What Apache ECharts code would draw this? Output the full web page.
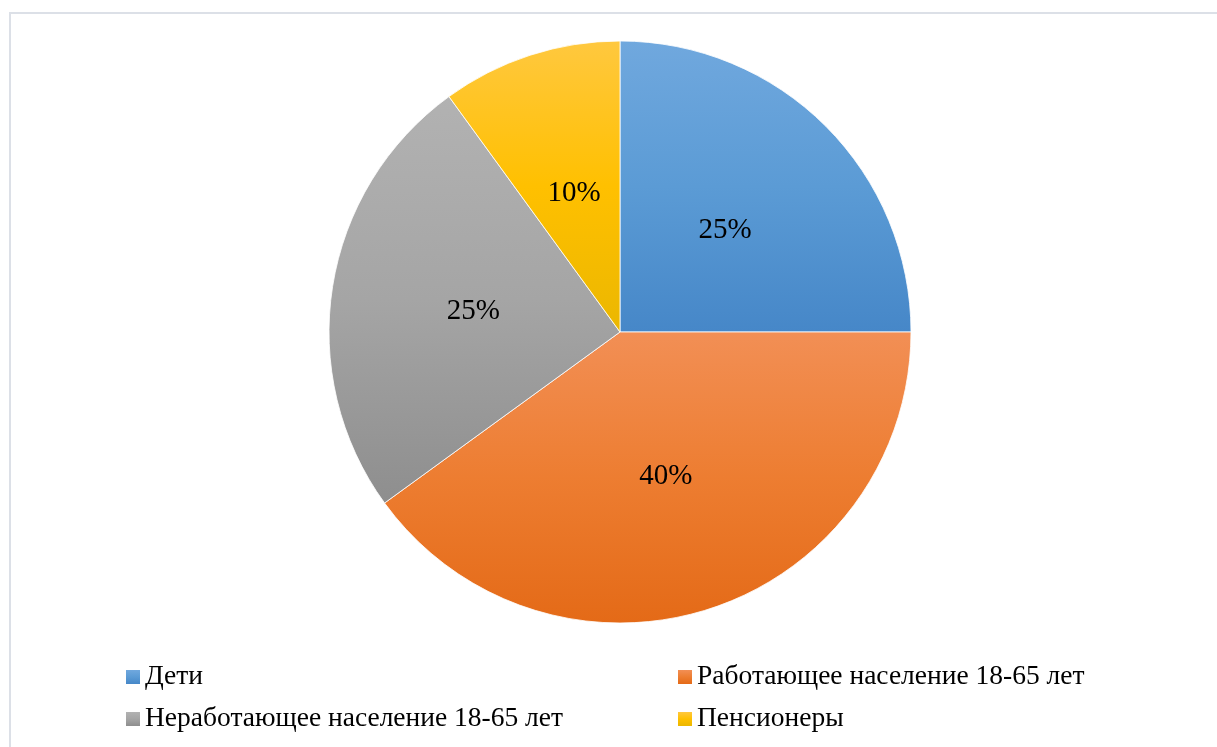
<!DOCTYPE html>
<html>
<head>
<meta charset="utf-8">
<script src="https://cdn.jsdelivr.net/npm/echarts@6/dist/echarts.min.js"></script>
<style>
html,body{margin:0;padding:0;background:#fff;}
#c{width:1217px;height:747px;}
</style>
</head>
<body>
<div id="c"></div>
<script>
const categories = ['Дети', 'Работающее население 18-65 лет', 'Неработающее население 18-65 лет', 'Пенсионеры'];
const values = [25, 40, 25, 10];
const gradients = [
  ['#70a8de', '#5b9bd5', '#4687c8'],
  ['#f28f55', '#ed7d31', '#e46a17'],
  ['#b2b2b2', '#a5a5a5', '#8e8e8e'],
  ['#ffc83f', '#ffc000', '#ebb700']
];

function grad(c) {
  return new echarts.graphic.LinearGradient(0, 0, 0, 1, [
    {offset: 0, color: c[0]}, {offset: 0.5, color: c[1]}, {offset: 1, color: c[2]}
  ]);
}

const chart = echarts.init(document.getElementById('c'), null, {renderer: 'canvas'});
const fontFamily = '"Liberation Serif", "Times New Roman", serif';
const legendText = {fontFamily: fontFamily, fontSize: 27.5, color: '#000', lineHeight: 28};

chart.setOption({
  backgroundColor: '#fff',
  animation: false,
  graphic: [{
    type: 'rect',
    shape: {x: 10, y: 13, width: 1300, height: 800},
    style: {fill: 'none', stroke: '#dce0e7', lineWidth: 2},
    silent: true,
    z: -1
  }],
  legend: [{
    orient: 'vertical',
    left: 126, top: 663, padding: 0,
    icon: 'rect', itemWidth: 14, itemHeight: 14, itemGap: 14,
    itemStyle: {borderWidth: 0},
    textStyle: legendText,
    data: [categories[0], categories[2]]
  }, {
    orient: 'vertical',
    left: 678, top: 663, padding: 0,
    icon: 'rect', itemWidth: 14, itemHeight: 14, itemGap: 14,
    itemStyle: {borderWidth: 0},
    textStyle: legendText,
    data: [categories[1], categories[3]]
  }],
  series: [{
    type: 'pie',
    center: [620, 332],
    radius: 291,
    startAngle: 90,
    clockwise: true,
    label: {
      show: true,
      position: 'inside',
      formatter: '{d}%',
      fontFamily: fontFamily,
      fontSize: 29,
      color: '#000',
      offset: [0, 3]
    },
    labelLine: {show: false},
    itemStyle: {borderColor: '#ffffff', borderWidth: 0.8},
    emphasis: {disabled: true},
    data: categories.map((n, i) => ({name: n, value: values[i], itemStyle: {color: grad(gradients[i])}}))
  }]
});
</script>
</body>
</html>
